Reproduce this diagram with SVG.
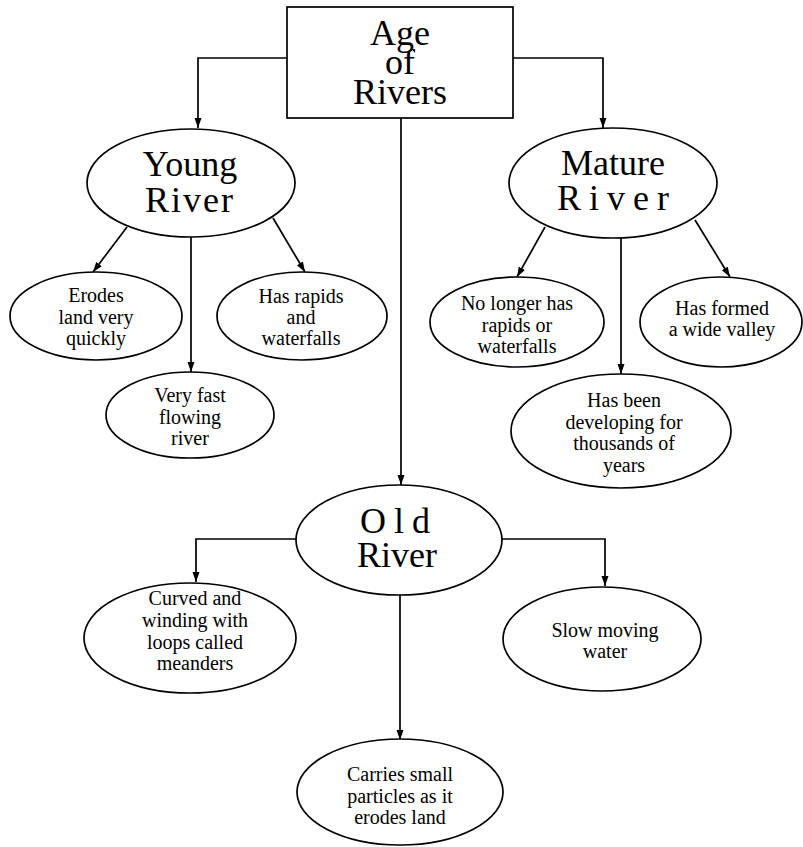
<svg xmlns="http://www.w3.org/2000/svg" width="803" height="847" viewBox="0 0 803 847">
<defs>
<style>
.n{fill:#fff;stroke:#000;stroke-width:1.7}
.t{font-family:"Liberation Serif","Times New Roman",serif;fill:#000;text-anchor:middle}
.big{font-size:36px}
.sm{font-size:20px}
.c{fill:none;stroke:#000;stroke-width:1.7}
</style>
<marker id="ah" markerUnits="userSpaceOnUse" markerWidth="10" markerHeight="10" viewBox="0 0 10 10" refX="10" refY="5" orient="auto">
<path d="M0,1.5 L10,5 L0,8.5 Z" fill="#000"/>
</marker>
</defs>
<rect width="803" height="847" fill="#fff"/>
<g id="connectors">
<polyline class="c" points="287,58 198,58 198,128" marker-end="url(#ah)"/>
<polyline class="c" points="513,58 603,58 603,128" marker-end="url(#ah)"/>
<line class="c" x1="401" y1="118" x2="401" y2="485" marker-end="url(#ah)"/>
<line class="c" x1="127" y1="227" x2="93" y2="272" marker-end="url(#ah)"/>
<line class="c" x1="191" y1="237" x2="191" y2="372" marker-end="url(#ah)"/>
<line class="c" x1="273" y1="218" x2="305" y2="272" marker-end="url(#ah)"/>
<line class="c" x1="545" y1="227" x2="517" y2="277" marker-end="url(#ah)"/>
<line class="c" x1="621" y1="238" x2="621" y2="374" marker-end="url(#ah)"/>
<line class="c" x1="695" y1="220" x2="730" y2="277" marker-end="url(#ah)"/>
<polyline class="c" points="296,539 196,539 196,582" marker-end="url(#ah)"/>
<polyline class="c" points="502,539 605,539 605,586" marker-end="url(#ah)"/>
<line class="c" x1="400" y1="595" x2="400" y2="740" marker-end="url(#ah)"/>
</g>
<g id="age">
<rect class="n" x="287" y="7" width="226" height="111"/>
<text class="t big" x="400" y="45">Age</text>
<text class="t big" x="400" y="74">of</text>
<text class="t big" x="400" y="104">Rivers</text>
</g>
<g id="young">
<ellipse class="n" cx="191" cy="183" rx="104" ry="54"/>
<text class="t big" x="190" y="176">Young</text>
<text class="t big" x="190" y="212" letter-spacing="2">River</text>
</g>
<g id="mature">
<ellipse class="n" cx="613" cy="183" rx="104" ry="55"/>
<text class="t big" x="613" y="175">Mature</text>
<text class="t big" x="617" y="210" letter-spacing="8">River</text>
</g>
<g id="erodes">
<ellipse class="n" cx="96" cy="316" rx="86" ry="44"/>
<text class="t sm" x="96" y="302">Erodes</text>
<text class="t sm" x="96" y="324">land very</text>
<text class="t sm" x="96" y="345">quickly</text>
</g>
<g id="rapids">
<ellipse class="n" cx="302" cy="316" rx="85" ry="44"/>
<text class="t sm" x="301" y="303">Has rapids</text>
<text class="t sm" x="301" y="324">and</text>
<text class="t sm" x="301" y="345">waterfalls</text>
</g>
<g id="fast">
<ellipse class="n" cx="190" cy="415" rx="84" ry="43"/>
<text class="t sm" x="190" y="402">Very fast</text>
<text class="t sm" x="190" y="424">flowing</text>
<text class="t sm" x="190" y="445">river</text>
</g>
<g id="nolonger">
<ellipse class="n" cx="517" cy="322" rx="87" ry="45"/>
<text class="t sm" x="517" y="310">No longer has</text>
<text class="t sm" x="517" y="332">rapids or</text>
<text class="t sm" x="517" y="353">waterfalls</text>
</g>
<g id="formed">
<ellipse class="n" cx="721" cy="322" rx="81" ry="45"/>
<text class="t sm" x="722" y="315">Has formed</text>
<text class="t sm" x="722" y="336">a wide valley</text>
</g>
<g id="developing">
<ellipse class="n" cx="621" cy="431" rx="110" ry="57"/>
<text class="t sm" x="624" y="407">Has been</text>
<text class="t sm" x="624" y="429">developing for</text>
<text class="t sm" x="624" y="450">thousands of</text>
<text class="t sm" x="624" y="472">years</text>
</g>
<g id="old">
<ellipse class="n" cx="399" cy="540" rx="103" ry="55"/>
<text class="t big" x="399" y="533" letter-spacing="8">Old</text>
<text class="t big" x="397" y="567">River</text>
</g>
<g id="curved">
<ellipse class="n" cx="190" cy="638" rx="106" ry="55"/>
<text class="t sm" x="195" y="605">Curved and</text>
<text class="t sm" x="195" y="627">winding with</text>
<text class="t sm" x="195" y="649">loops called</text>
<text class="t sm" x="195" y="670">meanders</text>
</g>
<g id="slow">
<ellipse class="n" cx="602" cy="639" rx="99" ry="52"/>
<text class="t sm" x="605" y="637">Slow moving</text>
<text class="t sm" x="605" y="658">water</text>
</g>
<g id="carries">
<ellipse class="n" cx="400" cy="792" rx="103" ry="53"/>
<text class="t sm" x="400" y="781">Carries small</text>
<text class="t sm" x="400" y="803">particles as it</text>
<text class="t sm" x="400" y="824">erodes land</text>
</g>
</svg>
